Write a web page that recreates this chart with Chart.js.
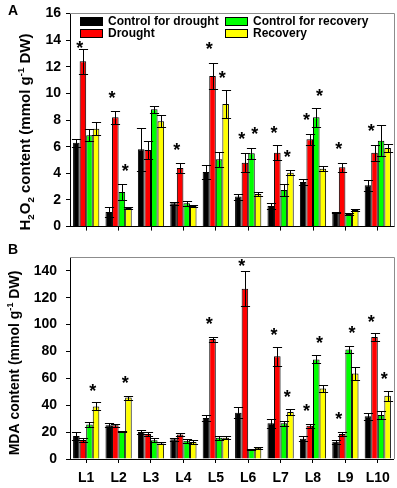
<!DOCTYPE html>
<html>
<head>
<meta charset="UTF-8">
<title>H2O2 and MDA content</title>
<script src="https://cdn.jsdelivr.net/npm/chart.js"></script>
<style>
    body {
        margin: 0;
        background: #ffffff;
        width: 397px;
        height: 488px;
        overflow: hidden;
    }
    .panel {
        position: absolute;
        left: 0;
        width: 397px;
    }
    #panelA { top: 0; height: 240px; }
    #panelB { top: 240px; height: 248px; }
</style>
</head>
<body>
<div class="panel" id="panelA"><canvas id="chartA" width="397" height="240"></canvas></div>
<div class="panel" id="panelB"><canvas id="chartB" width="397" height="248"></canvas></div>

<script>
// categories and series
const lines = ['L1', 'L2', 'L3', 'L4', 'L5', 'L6', 'L7', 'L8', 'L9', 'L10'];
const seriesNames = ['Control for drought', 'Drought', 'Control for recovery', 'Recovery'];

// H2O2 content (panel A)
const h2o2CtrlDrought    = [6.3, 1.1, 5.8, 1.75, 4.1, 2.25, 1.55, 3.35, 1.05, 3.1];
const h2o2CtrlDroughtErr = [0.3, 0.35, 1.6, 0.1, 0.55, 0.22, 0.25, 0.2, 0.05, 0.4];
const h2o2Drought        = [12.4, 8.2, 5.75, 4.4, 11.3, 4.8, 5.55, 6.55, 4.45, 5.55];
const h2o2DroughtErr     = [0.95, 0.5, 0.7, 0.37, 0.95, 0.7, 0.55, 0.42, 0.33, 0.6];
const h2o2CtrlRecovery   = [6.85, 2.6, 8.8, 1.75, 5.05, 5.5, 2.75, 8.2, 0.95, 6.45];
const h2o2CtrlRecoveryErr= [0.45, 0.6, 0.25, 0.2, 0.57, 0.42, 0.48, 0.72, 0.05, 1.15];
const h2o2Recovery       = [7.35, 1.4, 7.9, 1.55, 9.2, 2.45, 4.05, 4.35, 1.25, 5.9];
const h2o2RecoveryErr    = [0.5, 0.05, 0.45, 0.1, 1.05, 0.12, 0.18, 0.2, 0.05, 0.32];
const h2o2Ticks = [0, 2, 4, 6, 8, 10, 12, 14, 16];
// significance marks: [line index, series index, level]
const h2o2Stars = [[0, 1, 13.7], [1, 1, 9.9], [1, 3, 4.4], [3, 1, 6.0], [4, 1, 13.6], [4, 3, 11.4],
                   [5, 1, 6.8], [5, 3, 7.2], [6, 1, 7.3], [6, 3, 5.5], [7, 1, 8.25], [7, 3, 10.1],
                   [8, 1, 6.05], [9, 1, 7.4]];

// MDA content (panel B)
const mdaCtrlDrought     = [17.2, 25.2, 20, 14.7, 30.5, 34.5, 26.6, 15.1, 12.8, 31.9];
const mdaCtrlDroughtErr  = [2.8, 1.5, 1.5, 1.2, 1.9, 4.2, 3.5, 2, 1.4, 2.6];
const mdaDrought         = [14.2, 25.2, 18.6, 18.2, 89.2, 126.7, 76.4, 24.7, 18.6, 90.8];
const mdaDroughtErr      = [1.2, 1.2, 1.5, 1, 1.8, 13, 7, 1.4, 1.2, 3.3];
const mdaCtrlRecovery    = [25.6, 20.7, 14, 13.5, 15.8, 7.2, 26.6, 74.1, 81.5, 32.8];
const mdaCtrlRecoveryErr = [1.9, 0.5, 1.5, 1.4, 1.6, 0.5, 2, 3, 2.6, 2.8];
const mdaRecovery        = [39.1, 45.7, 11.6, 12.6, 15.8, 8.4, 34.9, 52.4, 63.6, 47];
const mdaRecoveryErr     = [3, 1.5, 0.8, 1.3, 1, 0.8, 2, 2.8, 4.9, 3.8];
const mdaTicks = [0, 20, 40, 60, 80, 100, 120, 140];
const mdaStars = [[0, 3, 53.3], [1, 3, 59.1], [4, 1, 103], [5, 1, 146], [6, 1, 94.9], [6, 3, 48.6],
                  [7, 1, 38.6], [7, 3, 89], [8, 1, 32.1], [8, 3, 96.3], [9, 1, 104.4], [9, 3, 61.9]];

const barColors = ['#000000', '#ff0000', '#00ff00', '#ffff00'];
const FONT = '"Liberation Sans", Arial, sans-serif';
Chart.defaults.font.family = FONT;
Chart.defaults.color = '#000';

// draws text with sub/superscripts, rotated to read bottom-to-top
function drawVerticalTitle(ctx, parts, cx, cy, size) {
    ctx.save();
    ctx.translate(cx, cy);
    ctx.rotate(-Math.PI / 2);
    ctx.fillStyle = '#000';
    ctx.textBaseline = 'alphabetic';
    let total = 0;
    parts.forEach(p => {
        ctx.font = 'bold ' + (p[1] ? size * 0.65 : size) + 'px ' + FONT;
        total += ctx.measureText(p[0]).width;
    });
    let x = -total / 2;
    const base = size * 0.36;
    parts.forEach(p => {
        ctx.font = 'bold ' + (p[1] ? size * 0.65 : size) + 'px ' + FONT;
        let dy = base;
        if (p[1] === 'sub') dy = base + size * 0.25;
        if (p[1] === 'sup') dy = base - size * 0.45;
        ctx.fillText(p[0], x, dy);
        x += ctx.measureText(p[0]).width;
    });
    ctx.restore();
}

const decorations = {
    id: 'decorations',
    afterDatasetsDraw(chart, args, opts) {
        const ctx = chart.ctx;
        const yScale = chart.scales.y;
        const area = chart.chartArea;

        // error bars
        ctx.save();
        ctx.strokeStyle = '#000';
        ctx.lineWidth = 1;
        chart.data.datasets.forEach((ds, i) => {
            const meta = chart.getDatasetMeta(i);
            meta.data.forEach((bar, j) => {
                const v = ds.data[j], e = ds.errors[j];
                const yTop = Math.round(yScale.getPixelForValue(v + e)) + 0.5;
                const yBot = Math.round(yScale.getPixelForValue(Math.max(0, v - e))) + 0.5;
                const x = Math.round(bar.x) + 0.5;
                const hw = bar.width * 0.7;
                ctx.beginPath();
                ctx.moveTo(x, yTop); ctx.lineTo(x, yBot);
                ctx.moveTo(x - hw, yTop); ctx.lineTo(x + hw, yTop);
                ctx.moveTo(x - hw, yBot); ctx.lineTo(x + hw, yBot);
                ctx.stroke();
            });
        });

        // significance stars
        ctx.fillStyle = '#000';
        ctx.font = 'bold 18px ' + FONT;
        ctx.textAlign = 'center';
        ctx.textBaseline = 'alphabetic';
        const m = ctx.measureText('*');
        const shift = (m.actualBoundingBoxAscent - m.actualBoundingBoxDescent) / 2;
        opts.stars.forEach(s => {
            const bar = chart.getDatasetMeta(s[1]).data[s[0]];
            const x = bar.x - bar.width / 2;
            ctx.fillText('*', x, yScale.getPixelForValue(s[2]) + shift);
        });

        // frame: top and right
        ctx.strokeStyle = '#8c8c8c';
        ctx.beginPath();
        ctx.moveTo(area.left, Math.round(area.top) + 0.5);
        ctx.lineTo(Math.round(area.right) + 0.5, Math.round(area.top) + 0.5);
        ctx.lineTo(Math.round(area.right) + 0.5, area.bottom);
        ctx.stroke();

        // legend
        if (opts.legend) {
            ctx.font = 'bold 12px ' + FONT;
            ctx.textAlign = 'left';
            ctx.textBaseline = 'middle';
            const cols = [80, 225];
            const rows = [21, 33];
            seriesNames.forEach((name, k) => {
                const cx = cols[Math.floor(k / 2)], cy = rows[k % 2];
                ctx.fillStyle = barColors[k];
                ctx.fillRect(cx, cy - 4, 22, 8);
                ctx.strokeStyle = '#000';
                ctx.strokeRect(cx + 0.5, cy - 4 + 0.5, 22, 8);
                ctx.fillStyle = '#000';
                ctx.fillText(name, cx + 28, cy + 1);
            });
        }

        // panel letter and axis title
        ctx.fillStyle = '#000';
        ctx.textAlign = 'left';
        ctx.textBaseline = 'alphabetic';
        ctx.font = 'bold ' + opts.letterSize + 'px ' + FONT;
        ctx.fillText(opts.letter, opts.letterX, opts.letterY);
        drawVerticalTitle(ctx, opts.title, opts.titleX, opts.titleY, opts.titleSize);
        ctx.restore();
    }
};

function makeDatasets(values, errors) {
    return values.map((vals, k) => ({
        label: seriesNames[k],
        data: vals,
        errors: errors[k],
        backgroundColor: barColors[k],
        borderColor: '#000',
        borderWidth: 1,
        categoryPercentage: 0.81,
        barPercentage: 1.0
    }));
}

function makeChart(canvasId, values, errors, ymax, tickList, cfg) {
    return new Chart(document.getElementById(canvasId), {
        type: 'bar',
        data: { labels: lines, datasets: makeDatasets(values, errors) },
        options: {
            responsive: false,
            animation: false,
            devicePixelRatio: 1,
            layout: { padding: { top: cfg.padTop, right: 3, left: 0, bottom: 0 } },
            plugins: {
                legend: { display: false },
                tooltip: { enabled: false },
                decorations: cfg.deco
            },
            scales: {
                x: {
                    grid: { display: true, drawOnChartArea: false, drawTicks: true, tickLength: 4, color: '#000', offset: false },
                    border: { display: true, color: '#000', width: 1 },
                    ticks: { display: cfg.showX, padding: 7, font: { size: 14, weight: 'bold' }, color: '#000', maxRotation: 0 },
                    afterFit: s => { s.height = cfg.xHeight; }
                },
                y: {
                    min: 0,
                    max: ymax,
                    grid: { display: true, drawOnChartArea: false, drawTicks: true, tickLength: 4, color: '#000' },
                    border: { display: true, color: '#000', width: 1 },
                    ticks: { padding: cfg.yPad, font: { size: 14, weight: 'bold' }, color: '#000' },
                    afterBuildTicks: s => { s.ticks = tickList.map(v => ({ value: v })); },
                    afterFit: s => { s.width = 70; }
                }
            }
        },
        plugins: [decorations]
    });
}

makeChart('chartA',
    [h2o2CtrlDrought, h2o2Drought, h2o2CtrlRecovery, h2o2Recovery],
    [h2o2CtrlDroughtErr, h2o2DroughtErr, h2o2CtrlRecoveryErr, h2o2RecoveryErr],
    16, h2o2Ticks,
    {
        padTop: 13, xHeight: 13, showX: false, yPad: 5,
        deco: {
            stars: h2o2Stars, legend: true,
            letter: 'A', letterX: 8, letterY: 15, letterSize: 14,
            title: [['H'], ['2', 'sub'], ['O'], ['2', 'sub'], [' content (mmol g'], ['-1', 'sup'], [' DW)']],
            titleX: 25, titleY: 132, titleSize: 15
        }
    });

makeChart('chartB',
    [mdaCtrlDrought, mdaDrought, mdaCtrlRecovery, mdaRecovery],
    [mdaCtrlDroughtErr, mdaDroughtErr, mdaCtrlRecoveryErr, mdaRecoveryErr],
    150, mdaTicks,
    {
        padTop: 3, xHeight: 29, showX: true, yPad: 9,
        deco: {
            stars: mdaStars, legend: false,
            letter: 'B', letterX: 8, letterY: 14, letterSize: 14,
            title: [['MDA content (mmol g'], ['-1', 'sup'], [' DW)']],
            titleX: 14, titleY: 123, titleSize: 14
        }
    });
</script>
</body>
</html>
